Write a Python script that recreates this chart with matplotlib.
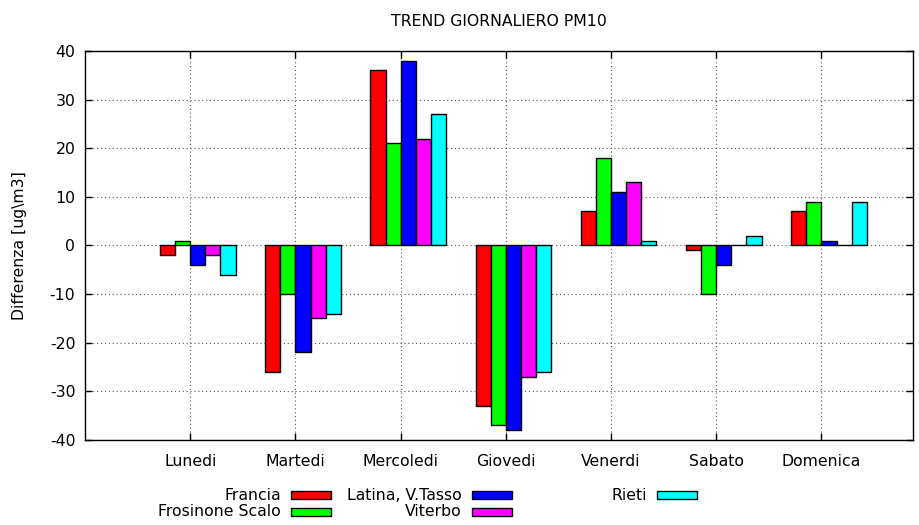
"""Trend giornaliero PM10: differenze per giorno della settimana e stazione."""

import matplotlib

matplotlib.use("Agg")
import matplotlib.pyplot as plt
import numpy as np
from matplotlib.patches import Rectangle

plt.rcParams["font.family"] = ["DejaVu Sans"]
plt.rcParams["font.size"] = 11.3
plt.rcParams["axes.unicode_minus"] = False

DAYS = ["Lunedi", "Martedi", "Mercoledi", "Giovedi", "Venerdi", "Sabato", "Domenica"]
STATIONS = ["Francia", "Frosinone Scalo", "Latina, V.Tasso", "Viterbo", "Rieti"]
COLORS = ["#ff0000", "#00ff00", "#0000ff", "#ff00ff", "#00ffff"]

FRANCIA = [-2, -26, 36, -33, 7, -1, 7]
FROSINONE = [1, -10, 21, -37, 18, -10, 9]
LATINA = [-4, -22, 38, -38, 11, -4, 1]
VITERBO = [-2, -15, 22, -27, 13, 0, 0]
RIETI = [-6, -14, 27, -26, 1, 2, 9]
SERIES = [FRANCIA, FROSINONE, LATINA, VITERBO, RIETI]

fig = plt.figure(figsize=(9.19, 5.25), dpi=100)
ax = fig.add_axes([0.0925, 0.1619, 0.901, 0.741])

x = np.arange(len(DAYS))
width = 0.1435
for i, (vals, color) in enumerate(zip(SERIES, COLORS)):
    ax.bar(x + (i - 2) * width, vals, width, align="edge", color=color,
           edgecolor="black", linewidth=1.0, zorder=3)

ax.set_xlim(-1.0, 6.87)
ax.set_ylim(-40, 40)
ax.set_yticks(np.arange(-40, 41, 10))
ax.set_xticks(x)
ax.set_xticklabels(DAYS)
ax.tick_params(direction="in", top=True, right=True, length=5, width=1, pad=10)
ax.tick_params(axis="y", pad=7)
ax.grid(True, linestyle=(0, (1, 2.5)), color="#555555", linewidth=0.8, zorder=0)
for spine in ax.spines.values():
    spine.set_linewidth(1.0)
ax.set_ylabel("Differenza [ug\\m3]")
ax.yaxis.set_label_coords(-0.07, 0.5)
ax.set_title("TREND GIORNALIERO PM10", fontsize=11.3, pad=18)

# legend in gnuplot style: label right-aligned, swatch on the right
W, H = 919.0, 525.0
col_x = [281, 462, 647]
row_y = [495, 512]
for k, (name, color) in enumerate(zip(STATIONS, COLORS)):
    if k == 4:
        cx, cy = col_x[2], row_y[0]
    else:
        cx, cy = col_x[k // 2], row_y[k % 2]
    fig.text(cx / W, 1 - cy / H, name, ha="right", va="center", fontsize=11.3)
    fig.patches.append(Rectangle(((cx + 10) / W, 1 - (cy + 4) / H), 40 / W, 8 / H,
                                 transform=fig.transFigure, facecolor=color,
                                 edgecolor="black", linewidth=1.0))

fig.savefig("out.png", dpi=100)
